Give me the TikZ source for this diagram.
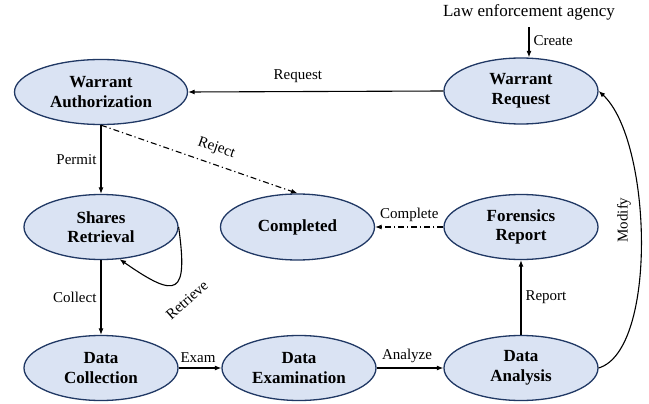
\documentclass[tikz,border=0pt]{standalone}
\usepackage{fontspec}
\setmainfont{Liberation Serif}
\usetikzlibrary{shapes.geometric,arrows.meta,calc}
\definecolor{nodefill}{RGB}{218,227,243}
\definecolor{nodeborder}{RGB}{32,56,100}
\tikzset{
  state/.style={ellipse, draw=nodeborder, fill=nodefill, line width=1.3pt,
    inner sep=0pt, minimum width=154pt, minimum height=66pt, align=center,
    font=\bfseries\fontsize{17}{19.6}\selectfont},
  arr/.style={line width=1.1pt, -{Latex[length=6.5pt,width=5pt]}},
  dd/.style={arr, dash pattern=on 6pt off 3pt on 1.2pt off 3pt},
  lbl/.style={font=\fontsize{15}{17}\selectfont, inner sep=2pt}
}
\begin{document}
\begin{tikzpicture}[x=1pt,y=-1pt]
\useasboundingbox (0,0) rectangle (649,404);
\node[state, minimum width=173pt, minimum height=65pt] (wa) at (101,92) {Warrant\\Authorization};
\node[state] (wr) at (521,91) {Warrant\\Request};
\node[state, minimum height=65pt] (sr) at (101,227) {Shares\\Retrieval};
\node[state] (co) at (297.5,227) {Completed};
\node[state, minimum height=65pt] (fr) at (521,227) {Forensics\\Report};
\node[state, minimum height=65pt] (dc) at (101,368) {Data\\Collection};
\node[state, minimum height=65pt] (de) at (299,368) {Data\\Examination};
\node[state, minimum height=65pt] (da) at (521,368) {Data\\Analysis};
\node[font=\fontsize{17}{20}\selectfont, inner sep=2pt] (law) at (529,12) {Law enforcement agency};

\draw[arr, shorten <=5pt] (law.south) -- (law.south |- wr.north)
  node[lbl, midway, right, xshift=2pt, yshift=-1pt] {Create};
\draw[arr] (wr.west) -- (wa.east) node[lbl, pos=0.57, above=6pt] {Request};
\draw[arr] (wa.south) -- (sr.north) node[lbl, midway, left=2pt] {Permit};
\draw[dd] (wa.south) -- (co.north) node[lbl, pos=0.56, sloped, above=7pt] {Reject};
\draw[arr] (sr.east) .. controls (188,295) and (178,300) .. (sr.-60);
\node[lbl, rotate=42] (ret) at (187,300) {Retrieve};
\draw[arr] (sr.south) -- (dc.north) node[lbl, midway, left=2pt] {Collect};
\draw[arr] (dc.east) -- (de.west) node[lbl, midway, above=3pt, xshift=-2pt] {Exam};
\draw[arr] (de.east) -- (da.west) node[lbl, midway, above=3pt, xshift=-3pt] {Analyze};
\draw[arr] (da.north) -- (fr.south) node[lbl, midway, right=2pt] {Report};
\draw[dd] (fr.west) -- (co.east) node[lbl, midway, above=3pt] {Complete};
\draw[arr] (da.east) .. controls (658,350) and (652,140) .. (wr.east);
\node[lbl, rotate=90] (mod) at (624,220) {Modify};
\end{tikzpicture}
\end{document}
